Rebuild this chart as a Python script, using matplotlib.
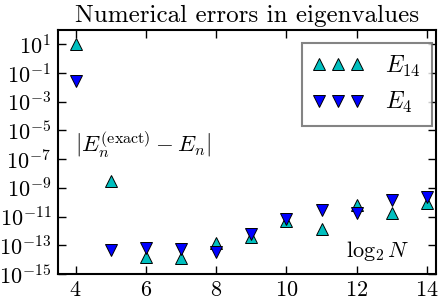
import numpy as np
import matplotlib
matplotlib.use('Agg')
import matplotlib.pyplot as plt

plt.rcParams['font.family'] = 'serif'
plt.rcParams['font.serif'] = ['cmr10']
plt.rcParams['mathtext.fontset'] = 'cm'
plt.rcParams['axes.formatter.use_mathtext'] = True

# ---------------------------------------------------------------------------- #
#                          errors vs log2 N                                     #
# ---------------------------------------------------------------------------- #

log2N = [4, 5, 6, 7, 8, 9, 10, 11, 12, 13, 14]
err_E14 = [1e1, 3e-9, 1.5e-14, 1.3e-14, 1.5e-13, 4e-13, 4.7e-12, 1.3e-12, 6e-11, 1.8e-11, 8.7e-11]
err_E4 = [2.6e-2, 4.4e-14, 6.8e-14, 5.7e-14, 3.4e-14, 6.4e-13, 7e-12, 2.7e-11, 1.8e-11, 1.5e-10, 2.3e-10]

fig = plt.figure(figsize=(4.47, 3.0), dpi=100)
ax = fig.add_axes([0.13, 0.087, 0.845, 0.813])

ax.semilogy(log2N, err_E14, '^', color='c', markeredgecolor='k', markeredgewidth=0.7,
            markersize=8, label='$E_{14}$')
ax.semilogy(log2N, err_E4, 'v', color='b', markeredgecolor='k', markeredgewidth=0.7,
            markersize=8, label='$E_4$')

ax.set_xlim(3.5, 14.25)
ax.set_ylim(1e-15, 1e2)
ax.set_xticks([4, 6, 8, 10, 12, 14])
ax.set_yticks([10.0**k for k in range(-15, 2, 2)])
ax.minorticks_off()
ax.tick_params(direction='in', top=True, right=True, length=6, width=1, labelsize=16, pad=5)
for s in ax.spines.values():
    s.set_linewidth(1.5)

ax.text(3.97, 10**-6.5, r'$|E_n^{(\mathrm{exact})} - E_n|$', fontsize=16.5, va='baseline')
ax.text(11.7, 10**-13.85, r'$\log_2 N$', fontsize=16, va='baseline')

ax.set_title('Numerical errors in eigenvalues', fontsize=18, pad=6)

leg = ax.legend(loc='upper right', bbox_to_anchor=(0.989, 0.947), borderaxespad=0,
                numpoints=3, fancybox=False, fontsize=17,
                borderpad=0.45, labelspacing=0.5, handletextpad=0.9, handlelength=2.2,
                markerscale=1.15)
leg.get_frame().set_edgecolor('0.4')
leg.get_frame().set_linewidth(1.5)

plt.savefig('out.png', dpi=100)
